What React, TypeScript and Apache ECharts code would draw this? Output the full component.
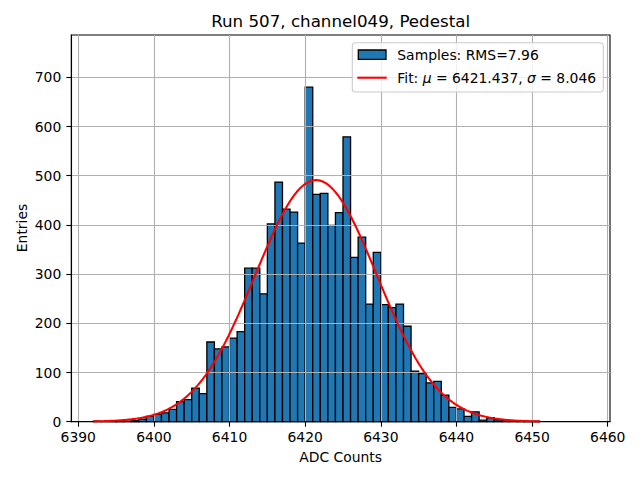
import React, { useEffect, useRef } from "react";
import * as echarts from "echarts";

// Histogram bins (left edge, width 1) and counts
const BIN_EDGES = [
  6392, 6393, 6394, 6395, 6396, 6397, 6398, 6399, 6400, 6401,
  6402, 6403, 6404, 6405, 6406, 6407, 6408, 6409, 6410, 6411,
  6412, 6413, 6414, 6415, 6416, 6417, 6418, 6419, 6420, 6421,
  6422, 6423, 6424, 6425, 6426, 6427, 6428, 6429, 6430, 6431,
  6432, 6433, 6434, 6435, 6436, 6437, 6438, 6439, 6440, 6441,
  6442, 6443, 6444, 6445, 6446, 6447, 6448, 6449, 6450,
];
const COUNTS = [
  1, 0, 1, 1, 1, 2, 5, 11, 15, 18,
  25, 41, 45, 68, 57, 162, 148, 152, 170, 183,
  312, 312, 260, 402, 487, 432, 426, 363, 680, 462,
  464, 399, 425, 579, 334, 375, 239, 344, 238, 232,
  239, 194, 103, 98, 79, 82, 54, 29, 26, 11,
  20, 3, 8, 4, 3, 2, 1, 1, 1,
];

// Fit parameters shown in the legend
const FIT_MU = 6421.437;
const FIT_SIGMA = 8.046;
const FIT_AMP = 491;
const FIT_RANGE = [6392, 6451];

const X_TICKS = [6390, 6400, 6410, 6420, 6430, 6440, 6450, 6460];
const Y_TICKS = [0, 100, 200, 300, 400, 500, 600, 700];

const TITLE = "Run 507, channel049, Pedestal";
const X_LABEL = "ADC Counts";
const Y_LABEL = "Entries";
const LEGEND_SAMPLES = "Samples: RMS=7.96";

const FONT = "DejaVu Sans";

export default function App() {
  const ref = useRef<HTMLDivElement>(null);

  useEffect(() => {
    if (!ref.current) return;
    const chart = echarts.init(ref.current, undefined, { renderer: "svg" });

    const histData = BIN_EDGES.map((x, i) => [x, COUNTS[i]]);
    const fitData: number[][] = [];
    const steps = 400;
    for (let k = 0; k <= steps; k++) {
      const x = FIT_RANGE[0] + ((FIT_RANGE[1] - FIT_RANGE[0]) * k) / steps;
      const y = FIT_AMP * Math.exp(-0.5 * Math.pow((x - FIT_MU) / FIT_SIGMA, 2));
      fitData.push([x, y]);
    }

    const axisText = { color: "#000", fontFamily: FONT, fontSize: 13.9 };

    chart.setOption({
      animation: false,
      backgroundColor: "#fff",
      grid: {
        left: 71.3,
        right: 30,
        top: 35,
        bottom: 58.3,
        show: true,
        borderColor: "#000",
        borderWidth: 1.1,
        backgroundColor: "transparent",
      },
      xAxis: {
        type: "value",
        min: 6389.08,
        max: 6460.3,
        z: 3,
        axisLine: { show: true, onZero: false, lineStyle: { color: "#000", width: 1.1 } },
        axisTick: { show: true, length: 5, customValues: X_TICKS, lineStyle: { color: "#000", width: 1.1 } },
        axisLabel: {
          ...axisText,
          margin: 8,
          customValues: X_TICKS,
          formatter: (v: number) => (Math.abs(v % 10) < 1e-6 ? String(v) : ""),
        },
        splitLine: { show: true, lineStyle: { color: "#b0b0b0", width: 1.1 } },
      },
      yAxis: {
        type: "value",
        min: 0,
        max: 786,
        z: 3,
        axisLine: { show: true, lineStyle: { color: "#000", width: 1.1 } },
        axisTick: { show: true, length: 5, customValues: Y_TICKS, lineStyle: { color: "#000", width: 1.1 } },
        axisLabel: {
          ...axisText,
          margin: 10,
          customValues: Y_TICKS,
          formatter: (v: number) => (Math.abs(v % 100) < 1e-6 ? String(v) : ""),
        },
        splitLine: { show: true, lineStyle: { color: "#b0b0b0", width: 1.1 } },
      },
      series: [
        {
          type: "custom",
          z: 2,
          encode: { x: 0, y: 1 },
          data: histData,
          renderItem: (params: any, api: any) => {
            const x0 = api.value(0);
            const v = api.value(1);
            const p0 = api.coord([x0, v]);
            const p1 = api.coord([x0 + 1, 0]);
            return {
              type: "rect",
              shape: { x: p0[0], y: p0[1], width: p1[0] - p0[0], height: p1[1] - p0[1] },
              style: { fill: "#1f77b4", stroke: "#000", lineWidth: 1.3 },
            };
          },
        },
        {
          type: "line",
          z: 5,
          data: fitData,
          showSymbol: false,
          symbol: "none",
          lineStyle: { color: "#ff0000", width: 2.1 },
        },
      ],
      graphic: [
        {
          type: "text",
          x: 340.6,
          y: 21,
          z: 100,
          style: {
            text: TITLE,
            fontFamily: FONT,
            fontSize: 16.7,
            fill: "#000",
            textAlign: "center",
            textVerticalAlign: "middle",
          },
        },
        {
          type: "text",
          x: 340.6,
          y: 457,
          z: 100,
          style: {
            text: X_LABEL,
            fontFamily: FONT,
            fontSize: 13.9,
            fill: "#000",
            textAlign: "center",
            textVerticalAlign: "middle",
          },
        },
        {
          type: "text",
          x: 22,
          y: 228,
          rotation: Math.PI / 2,
          z: 100,
          style: {
            text: Y_LABEL,
            fontFamily: FONT,
            fontSize: 13.9,
            fill: "#000",
            textAlign: "center",
            textVerticalAlign: "middle",
          },
        },
        {
          type: "rect",
          z: 100,
          shape: { x: 352.3, y: 42.7, width: 251, height: 49.3, r: 3 },
          style: { fill: "rgba(255,255,255,0.8)", stroke: "#cccccc", lineWidth: 1.1 },
        },
        {
          type: "rect",
          z: 101,
          shape: { x: 358.3, y: 50, width: 27.7, height: 9.3 },
          style: { fill: "#1f77b4", stroke: "#000", lineWidth: 1.3 },
        },
        {
          type: "text",
          x: 397.3,
          y: 54.7,
          z: 101,
          style: {
            text: LEGEND_SAMPLES,
            fontFamily: FONT,
            fontSize: 13.9,
            fill: "#000",
            textAlign: "left",
            textVerticalAlign: "middle",
          },
        },
        {
          type: "line",
          z: 101,
          shape: { x1: 357.3, y1: 77.7, x2: 386.7, y2: 77.7 },
          style: { stroke: "#ff0000", lineWidth: 2.1 },
        },
        {
          type: "text",
          x: 397.3,
          y: 77.7,
          z: 101,
          style: {
            text: "{n|Fit: }{i|μ}{n| = " + FIT_MU.toFixed(3) + ", }{i|σ}{n| = " + FIT_SIGMA.toFixed(3) + "}",
            textAlign: "left",
            textVerticalAlign: "middle",
            rich: {
              n: { fontFamily: FONT, fontSize: 13.9, fill: "#000" },
              i: { fontFamily: FONT, fontSize: 13.9, fontStyle: "italic", fill: "#000" },
            },
          },
        },
      ],
    });

    return () => chart.dispose();
  }, []);

  return (
    <div
      ref={ref}
      style={{ position: "absolute", left: 0, top: 0, width: 640, height: 480 }}
    />
  );
}
